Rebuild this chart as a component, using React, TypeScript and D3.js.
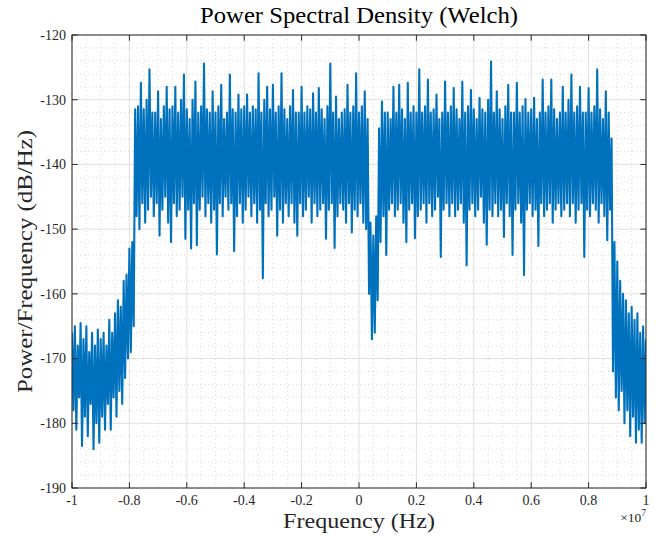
import React from "react";
import * as d3 from "d3";

// Welch PSD estimate, frequency grid from -1e7 Hz in 5e4 Hz steps (401 bins)
const F_START = -1e7;
const F_STEP = 5e4;

const psdDb: number[] = [
  // -1.0 .. -0.785 (noise floor)
  -166, -178, -165, -181, -168, -176, -164.5, -183.5, -167, -179,
  -165, -182, -169, -177, -166, -184, -168, -180, -165.5, -183,
  -167, -179, -166, -181, -168, -177, -164, -181, -166, -176,
  -163, -179, -161, -175, -162, -177, -158, -173, -157, -170,
  -153, -169, -152, -165,
  // main band (left)
  -131.5, -148, -131, -150, -127.4, -146,
  -131.5, -149, -130, -147, -125.3, -145, -132, -148, -132, -146,
  -128.7, -151, -133, -147, -131, -145, -128, -149, -131.5, -152,
  -131, -146, -128, -148, -132, -147, -130, -145, -126.1, -151.5,
  -131.5, -147, -133, -153, -130, -146, -127.2, -152.5, -132, -147,
  -131, -145, -124.4, -148, -131.5, -146, -132, -149, -128.7, -147,
  -132, -153.9, -131, -146, -127.7, -148, -133, -145, -132, -147,
  -126.1, -146, -131.5, -153.4, -132, -148, -129.2, -146, -131.5, -149,
  -131, -147, -129.2, -145, -132, -148, -131, -146, -131.5, -149,
  -125.9, -147, -132, -157.6, -130, -146, -128, -148, -131.5, -147,
  -127.7, -145, -132, -151, -131, -147, -125.9, -149, -131.5, -146,
  -133, -148, -131, -146, -128.5, -149, -132, -151, -132, -146,
  -128, -148, -132, -147, -131, -145, -131.5, -149, -129, -146,
  -132, -148, -128.2, -147, -131.5, -146, -133, -151.5, -131, -147,
  -124.4, -146, -132, -152.9, -129.5, -148, -133, -146, -132, -147,
  -131.5, -149, -127.7, -146, -132, -150.5, -131, -147, -125.9, -148,
  -132, -146, -131, -149, -128.7, -150, -133,
  // notch near DC offset
  -160, -149, -167, -151, -166, -148, -161,
  // main band (right)
  -134.4, -152, -130.3, -148, -132, -154,
  -132, -147, -133, -146, -128, -148, -132, -147, -127.7, -146,
  -131.5, -149, -133, -152, -127.4, -147, -132, -146, -131, -151.4,
  -132, -148, -125.3, -147, -132, -146, -131, -149, -126.9, -146,
  -132, -148, -131.5, -147, -129.2, -145, -133, -154.3, -132, -147,
  -127.2, -146, -132, -148, -131, -146, -128.2, -148, -131.5, -147,
  -133, -146, -127.2, -149, -132, -155.6, -131, -147, -128.5, -146,
  -131.5, -148, -133, -147, -129.7, -145, -131.5, -149, -132, -152.4,
  -130, -147, -124.1, -148, -132, -146, -128.7, -148, -131.5, -147,
  -133, -151.2, -131, -146, -127.7, -148, -132, -154, -132, -147,
  -127.4, -146, -132, -149, -131, -157.1, -129.9, -147, -132, -146,
  -131.5, -148, -129.7, -147, -133, -152.6, -132, -146, -126.9, -148,
  -132, -147, -131, -146, -126.9, -149, -131.5, -147, -133, -146,
  -132, -148, -128, -147, -132, -146, -130, -148, -126.1, -146,
  -132, -149, -131, -147, -128, -146, -132, -154.3, -132, -147,
  -128.2, -148, -132, -146, -131, -147, -125.3, -149, -131.5, -146,
  -133, -148, -128.7, -151.7, -132, -147, -136,
  // upper noise floor
  -172, -152, -176,
  -155, -178, -158, -175, -160, -180, -161, -178, -163, -182,
  -162, -179, -164, -183, -163, -181, -166, -183, -165, -180, -167,
];

const xTicks = [-1, -0.8, -0.6, -0.4, -0.2, 0, 0.2, 0.4, 0.6, 0.8, 1];
const xTickLabels = ["-1", "-0.8", "-0.6", "-0.4", "-0.2", "0", "0.2", "0.4", "0.6", "0.8", "1"];
const yTicks = [-190, -180, -170, -160, -150, -140, -130, -120];
const yTickLabels = ["-190", "-180", "-170", "-160", "-150", "-140", "-130", "-120"];

const titleText = "Power Spectral Density (Welch)";
const xLabelText = "Frequency (Hz)";
const yLabelText = "Power/Frequency (dB/Hz)";

const W = 660;
const H = 537;
const M = { left: 72, right: 646, top: 35, bottom: 488 };
const FONT = "'Liberation Serif', 'Times New Roman', serif";
const AX = "#262626";
const LINE = "#0072BD";

export default function App() {
  const x = d3.scaleLinear().domain([-1, 1]).range([M.left, M.right]);
  const y = d3.scaleLinear().domain([-190, -120]).range([M.bottom, M.top]);

  const data = psdDb.map((v, i) => ({ f: (F_START + i * F_STEP) / 1e7, v }));
  const line = d3
    .line<{ f: number; v: number }>()
    .x((d) => x(d.f))
    .y((d) => y(d.v));

  const xMinor = d3.range(-1, 1.0001, 0.05).filter((t) => Math.abs(Math.round(t * 5) - t * 5) > 1e-6);
  const yMinor = d3.range(-190, -119.99, 2).filter((t) => t % 10 !== 0);
  const tl = 5.7;

  return (
    <svg width={W} height={H} style={{ position: "absolute", left: 0, top: 0, background: "#fff" }}>
      <defs>
        <clipPath id="plotclip">
          <rect x={M.left} y={M.top} width={M.right - M.left} height={M.bottom - M.top} />
        </clipPath>
      </defs>
      <rect x={0} y={0} width={W} height={H} fill="#fff" />
      {/* minor grid */}
      <g stroke="#cfcfcf" strokeWidth={0.8} strokeDasharray="1,3">
        {xMinor.map((t, i) => (
          <line key={"xm" + i} x1={x(t)} x2={x(t)} y1={M.top} y2={M.bottom} />
        ))}
        {yMinor.map((t, i) => (
          <line key={"ym" + i} x1={M.left} x2={M.right} y1={y(t)} y2={y(t)} />
        ))}
      </g>
      {/* major grid */}
      <g stroke="#e0e0e0" strokeWidth={1}>
        {xTicks.map((t, i) => (
          <line key={"xg" + i} x1={x(t)} x2={x(t)} y1={M.top} y2={M.bottom} />
        ))}
        {yTicks.map((t, i) => (
          <line key={"yg" + i} x1={M.left} x2={M.right} y1={y(t)} y2={y(t)} />
        ))}
      </g>
      {/* data */}
      <g clipPath="url(#plotclip)">
        <path d={line(data) || ""} fill="none" stroke={LINE} strokeWidth={2.1} strokeLinejoin="round" />
      </g>
      {/* box and ticks */}
      <rect x={M.left} y={M.top} width={M.right - M.left} height={M.bottom - M.top} fill="none" stroke={AX} strokeWidth={1} />
      <g stroke={AX} strokeWidth={1}>
        {xTicks.map((t, i) => (
          <g key={"xt" + i}>
            <line x1={x(t)} x2={x(t)} y1={M.bottom} y2={M.bottom - tl} />
            <line x1={x(t)} x2={x(t)} y1={M.top} y2={M.top + tl} />
          </g>
        ))}
        {yTicks.map((t, i) => (
          <g key={"yt" + i}>
            <line x1={M.left} x2={M.left + tl} y1={y(t)} y2={y(t)} />
            <line x1={M.right} x2={M.right - tl} y1={y(t)} y2={y(t)} />
          </g>
        ))}
      </g>
      {/* tick labels */}
      <g fontFamily={FONT} fontSize={14} fill="#262626">
        {xTicks.map((t, i) => (
          <text key={"xl" + i} x={x(t)} y={505} textAnchor="middle">
            {xTickLabels[i]}
          </text>
        ))}
        {yTicks.map((t, i) => (
          <text key={"yl" + i} x={66} y={y(t)} dy="0.35em" textAnchor="end">
            {yTickLabels[i]}
          </text>
        ))}
        <text x={646} y={522} textAnchor="end" fontSize={13.5}>
          ×10
          <tspan dy={-6} fontSize={9.5}>7</tspan>
        </text>
      </g>
      <text x={(M.left + M.right) / 2} y={23} textAnchor="middle" fontFamily={FONT} fontSize={22.5}
        textLength={318} lengthAdjust="spacingAndGlyphs" fill="#000">
        {titleText}
      </text>
      <text x={(M.left + M.right) / 2} y={528} textAnchor="middle" fontFamily={FONT} fontSize={22}
        textLength={152} lengthAdjust="spacingAndGlyphs" fill="#262626">
        {xLabelText}
      </text>
      <text
        transform={`translate(32, ${(M.top + M.bottom) / 2}) rotate(-90)`}
        textAnchor="middle"
        fontFamily={FONT}
        fontSize={22}
        textLength={263}
        lengthAdjust="spacingAndGlyphs"
        fill="#262626"
      >
        {yLabelText}
      </text>
    </svg>
  );
}
